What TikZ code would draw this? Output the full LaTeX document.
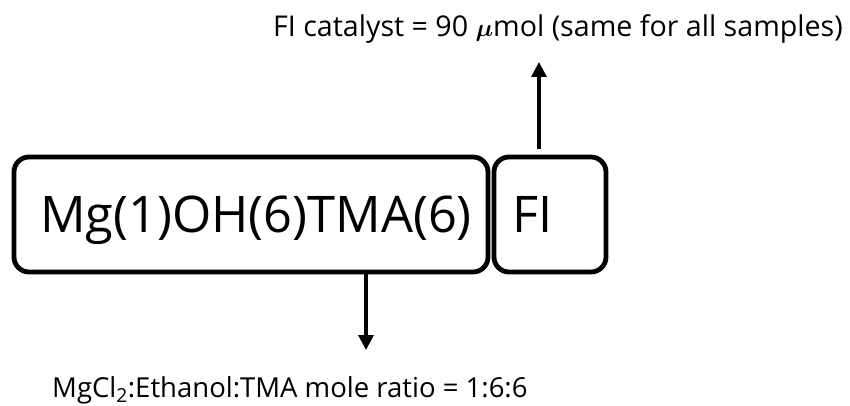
\documentclass[tikz,border=0pt]{standalone}
\usepackage{fontspec}
\usepackage{bm}
\setmainfont{Open Sans}
\usetikzlibrary{arrows.meta}
\begin{document}
\begin{tikzpicture}[x=1pt,y=-1pt,
  boxstyle/.style={draw, line width=4.8pt, rounded corners=15pt, inner sep=0pt},
  arr/.style={line width=3.2pt, -{Triangle[length=15pt,width=15pt]}},
  lbl/.style={inner sep=0pt, anchor=base west, font=\fontsize{27.5}{32}\selectfont}]
\useasboundingbox (0,0) rectangle (850,406);
\node[boxstyle, minimum width=474pt, minimum height=115pt] (mg) at (251,214.5) {};
\node[boxstyle, minimum width=112pt, minimum height=115pt] (fi) at (550,214.5) {};
\node[inner sep=0pt, anchor=base, font=\fontsize{50.5}{58}\selectfont] (mgt) at (256,232) {Mg(1)OH(6)TMA(6)};
\node[inner sep=0pt, anchor=base, font=\fontsize{50.5}{58}\selectfont] (fit) at (533,232) {FI};
\node[lbl, font=\fontsize{28.6}{32}\selectfont] (top) at (273,37) {FI catalyst = 90 {\fontsize{36}{36}\selectfont$\bm{\mu}$}mol (same for all samples)};
\node[lbl] (bot) at (52,397) {MgCl\textsubscript{2}:Ethanol:TMA mole ratio = 1:6:6};
\coordinate (upstart) at (539,149);
\coordinate (uptip) at (539,62);
\coordinate (dnstart) at (366,272);
\coordinate (dntip) at (366,350);
\draw[arr] (upstart) -- (uptip);
\draw[arr] (dnstart) -- (dntip);
\end{tikzpicture}
\end{document}
